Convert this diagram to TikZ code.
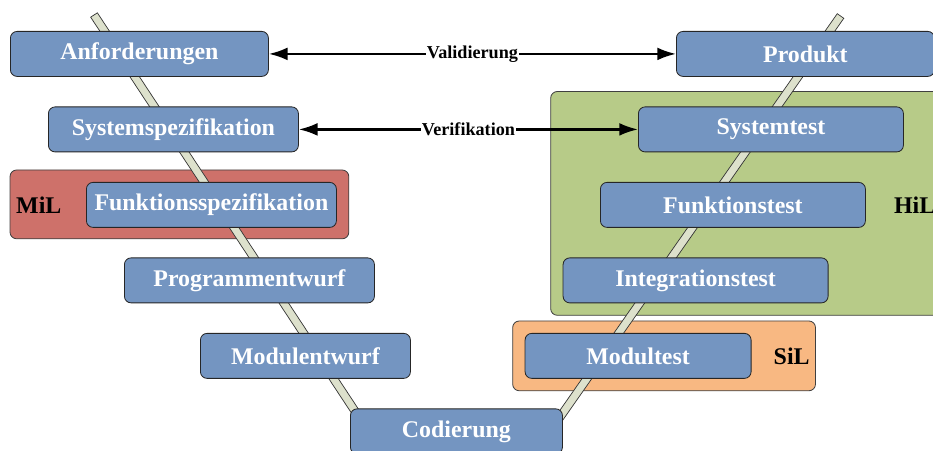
\documentclass[tikz,border=0pt]{standalone}
\usepackage{fontspec}
\setmainfont{Liberation Serif}
\usetikzlibrary{positioning, calc, arrows.meta, backgrounds}

\definecolor{vblue}{RGB}{116,149,193}
\definecolor{milred}{RGB}{206,113,106}
\definecolor{hilgreen}{RGB}{183,203,136}
\definecolor{silorange}{RGB}{248,184,130}
\definecolor{bandfill}{RGB}{221,225,204}

\begin{document}
\begin{tikzpicture}[
      x=0.03cm, y=-0.03cm,
      every node/.style={font=\fontsize{20.4}{24}\selectfont\bfseries, align=center, inner sep=0pt},
      box/.style={draw=black!85, line width=0.7pt, fill=vblue, text=white,
                  rounded corners=0.2cm, minimum height=1.35cm},
      group/.style={draw=black!75, line width=0.7pt, rounded corners=0.2cm},
      band/.style={draw=black!80, line width=0.6pt, fill=bandfill},
      arrow/.style={{Latex[length=16pt,width=11pt]}-{Latex[length=16pt,width=11pt]}, line width=2pt},
      tag/.style={font=\fontsize{15.5}{18}\selectfont\bfseries, fill=white, inner sep=1pt},
  ]
    \useasboundingbox (0,0) rectangle (933,450);

    \node[box, minimum width=7.74cm, anchor=north west] (anf) at (10,31) {Anforderungen};
    \node[box, minimum width=7.5cm, below=0.89cm of anf.south west, anchor=north west, xshift=1.14cm] (sysspez) {Systemspezifikation};
    \node[box, minimum width=7.5cm, below=0.89cm of sysspez.south west, anchor=north west, xshift=1.14cm] (funkspez) {Funktionsspezifikation};
    \node[box, minimum width=7.5cm, below=0.89cm of funkspez.south west, anchor=north west, xshift=1.14cm] (progent) {Programmentwurf};
    \node[box, minimum width=6.3cm, below=0.89cm of progent.south west, anchor=north west, xshift=2.28cm] (modent) {Modulentwurf};
    \node[box, minimum width=6.36cm, below=0.89cm of modent.south west, anchor=north west, xshift=4.5cm] (cod) {Codierung};

    \node[box, minimum width=7.74cm, anchor=north west] (prod) at (676,31) {Produkt};
    \node[box, minimum width=7.95cm, below=0.89cm of prod.south west, anchor=north west, xshift=-1.14cm] (systest) {Systemtest};
    \node[box, minimum width=7.95cm, below=0.89cm of systest.south west, anchor=north west, xshift=-1.14cm] (funktest) {Funktionstest};
    \node[box, minimum width=7.95cm, below=0.89cm of funktest.south west, anchor=north west, xshift=-1.12cm] (integ) {Integrationstest};
    \node[box, minimum width=6.78cm, below=0.89cm of integ.south west, anchor=north west, xshift=-1.14cm] (modtest) {Modultest};

    \node[anchor=west] (mil) at ($(funkspez.west)+(-70,0)$) {MiL};
    \node[anchor=west] (hil) at ($(funktest.east)+(28,0)$) {HiL};
    \node[anchor=west] (sil) at ($(modtest.east)+(22,0)$) {SiL};

    \coordinate (vl1) at (94,15);
    \coordinate (vl2) at (374,440);
    \coordinate (vr1) at (840.5,16);
    \coordinate (vr2) at (544,440);

    \begin{scope}[on background layer]
      \draw[group, fill=milred] ($(funkspez.north west)+(-76,-12)$) rectangle ($(funkspez.south east)+(12,11)$);
      \draw[group, fill=hilgreen] ($(integ.west |- systest.north)+(-12,-15)$) rectangle ($(systest.east |- integ.south)+(42,12)$);
      \draw[group, fill=silorange] ($(modtest.north west)+(-12,-12)$) rectangle ($(modtest.south east)+(64,12)$);
      \filldraw[band] ($(vl1)!0.12cm!90:(vl2)$) -- ($(vl2)!0.12cm!-90:(vl1)$) -- ($(vl2)!0.12cm!90:(vl1)$) -- ($(vl1)!0.12cm!-90:(vl2)$) -- cycle;
      \filldraw[band] ($(vr1)!0.12cm!90:(vr2)$) -- ($(vr2)!0.12cm!-90:(vr1)$) -- ($(vr2)!0.12cm!90:(vr1)$) -- ($(vr1)!0.12cm!-90:(vr2)$) -- cycle;
    \end{scope}

    \draw[arrow] (anf.east) -- node[tag] {Validierung} (prod.west);
    \draw[arrow] (sysspez.east) -- node[tag] {Verifikation} (systest.west);
  \end{tikzpicture}
\end{document}
